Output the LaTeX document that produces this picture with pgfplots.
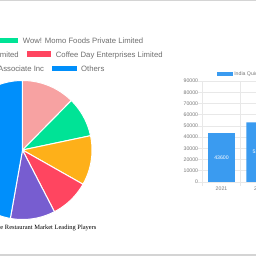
\documentclass[border=0pt]{standalone}
\usepackage{fontspec}
\setmainfont{Liberation Sans}
\newfontfamily\titlefont{Liberation Serif}
\usepackage{pgfplots}
\pgfplotsset{compat=1.18}
\usepackage{pgfplotstable}
\definecolor{cPink}{RGB}{247,162,162}
\definecolor{cGreen}{RGB}{0,227,150}
\definecolor{cOrange}{RGB}{254,176,25}
\definecolor{cRed}{RGB}{255,69,96}
\definecolor{cPurple}{RGB}{119,93,208}
\definecolor{cBlue}{RGB}{0,143,251}
\definecolor{barBlue}{RGB}{58,155,240}
\definecolor{legText}{RGB}{110,110,110}
\definecolor{tickText}{RGB}{120,120,120}
\definecolor{gridc}{RGB}{232,232,232}
\definecolor{frame}{RGB}{212,212,212}

% bar chart data
\pgfplotstableread{
x year value half
0 2021 43600 21800
1 2022 53200 26600
}\bardata

\begin{document}
\begin{tikzpicture}[x=1bp,y=1bp]
\useasboundingbox (0bp,0bp) rectangle (256bp,256bp);
\clip (0bp,0bp) rectangle (256bp,256bp);
\fill[white] (0bp,0bp) rectangle (256bp,256bp);
\fill[frame] (0bp,255.2bp) rectangle (256bp,256bp);
\fill[frame] (0bp,0bp) rectangle (256bp,1.6bp);

% ---------------- pie chart (shares in %: 12.4, 9.3, 11.5, 9.2, 10.4, 47.2)
\begin{axis}[at={(0bp,0bp)}, anchor=south west, scale only axis,
  width=256bp, height=256bp, xmin=0, xmax=256, ymin=0, ymax=256,
  hide axis, clip=false]
\addplot[fill=cPink, draw=white, line width=1bp, domain=90:45.36, samples=40, variable=\t]
  ({22.5+69.5*cos(t)},{106+69.5*sin(t)}) -- (22.5,106) -- cycle;
\addplot[fill=cGreen, draw=white, line width=1bp, domain=45.36:11.88, samples=40, variable=\t]
  ({22.5+69.5*cos(t)},{106+69.5*sin(t)}) -- (22.5,106) -- cycle;
\addplot[fill=cOrange, draw=white, line width=1bp, domain=11.88:-29.52, samples=40, variable=\t]
  ({22.5+69.5*cos(t)},{106+69.5*sin(t)}) -- (22.5,106) -- cycle;
\addplot[fill=cRed, draw=white, line width=1bp, domain=-29.52:-62.64, samples=40, variable=\t]
  ({22.5+69.5*cos(t)},{106+69.5*sin(t)}) -- (22.5,106) -- cycle;
\addplot[fill=cPurple, draw=white, line width=1bp, domain=-62.64:-100.08, samples=40, variable=\t]
  ({22.5+69.5*cos(t)},{106+69.5*sin(t)}) -- (22.5,106) -- cycle;
\addplot[fill=cBlue, draw=white, line width=1bp, domain=-100.08:-270, samples=120, variable=\t]
  ({22.5+69.5*cos(t)},{106+69.5*sin(t)}) -- (22.5,106) -- cycle;
\end{axis}

% pie legend (ApexCharts style, centred rows)
\begin{scope}[every node/.style={inner sep=0pt, text=legText, font=\fontsize{7.75}{9}\selectfont}]
\fill[cGreen] (-10bp,212.7bp) rectangle (18bp,218.3bp);
\node[anchor=base west] at (22.7bp,212.7bp) {Wow! Momo Foods Private Limited};
\node[anchor=base east] at (19bp,198.7bp) {Jubilant FoodWorks Limited};
\fill[cRed] (26.7bp,199.3bp) rectangle (51bp,204.7bp);
\node[anchor=base west] at (55.7bp,198.7bp) {Coffee Day Enterprises Limited};
\node[anchor=base east] at (44.3bp,184.7bp) {Doctor's Associate Inc};
\fill[cBlue] (52.3bp,184.7bp) rectangle (76.7bp,190bp);
\node[anchor=base west] at (81bp,184.7bp) {Others};
\end{scope}
\node[anchor=base east, inner sep=0pt, font=\titlefont\fontsize{6.5}{8}\selectfont]
  at (96.7bp,27bp) {India Quick Service Restaurant Market Leading Players};

% ---------------- bar chart
\begin{axis}[at={(202.3bp,74bp)}, anchor=south west, scale only axis,
  width=115.2bp, height=101bp,
  xmin=-0.5, xmax=2.5, ymin=0, ymax=90000,
  ytick={0,10000,...,90000},
  xtick={0,1,2}, xticklabels={2021,2022,2023},
  minor xtick={-0.5,0.5,1.5,2.5},
  xminorgrids, ymajorgrids,
  grid style={gridc, line width=0.6bp},
  axis line style={gridc, line width=0.6bp},
  tick style={gridc, line width=0.6bp},
  major x tick style={draw=none},
  tick align=outside, major tick length=4bp, minor tick length=4bp,
  xtick pos=bottom, ytick pos=left,
  scaled y ticks=false,
  /pgf/number format/assume math mode=true,
  ticklabel style={font=\fontsize{5.2}{6}\selectfont, text=tickText},
  yticklabel style={/pgf/number format/1000 sep={}, inner sep=0pt},
  xticklabel style={inner sep=1bp},
  legend image code/.code={\fill[barBlue] (0bp,-2.2bp) rectangle (16.6bp,2.2bp);},
  legend style={at={(0.1233,1.069)}, anchor=west, draw=none, fill=none,
    inner sep=0pt, outer sep=0pt, font=\fontsize{5.2}{6}\selectfont, text=tickText,
    nodes={inner sep=1.2bp}},
]
\addplot[ybar, bar width=0.7, fill=barBlue, draw=none] table[x=x, y=value]{\bardata};
\addlegendentry{India Quick Service Restaurant Market Size}
\addplot[forget plot, only marks, mark=none, nodes near coords,
  point meta=explicit symbolic,
  every node near coord/.append style={anchor=center, text=white, font=\fontsize{5.2}{6}\selectfont}]
  table[x=x, y=half, meta=value]{\bardata};
\end{axis}
\end{tikzpicture}
\end{document}
